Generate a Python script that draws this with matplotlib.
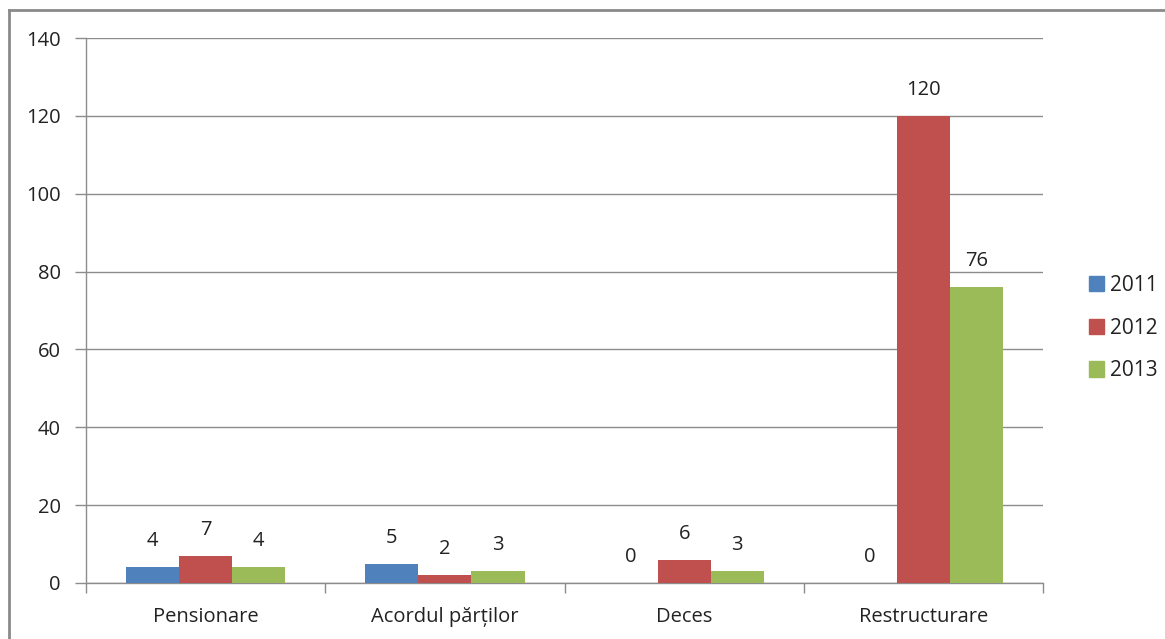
import numpy as np
import matplotlib.pyplot as plt
from matplotlib.lines import Line2D
from matplotlib.patches import Patch

categories = ['Pensionare', 'Acordul părților', 'Deces', 'Restructurare']
years = ['2011', '2012', '2013']
v2011 = [4, 5, 0, 0]
v2012 = [7, 2, 6, 120]
v2013 = [4, 3, 3, 76]
colors = ['#4F81BD', '#C0504D', '#9BBB59']

plt.rcParams['font.family'] = ['Open Sans', 'DejaVu Sans']

fig = plt.figure(figsize=(11.65, 6.39), dpi=100)
ax = fig.add_axes([86/1165, 1-583/639, (1043-86)/1165, (583-38)/639])

x = np.arange(len(categories))
w = 1/4.5
series = [v2011, v2012, v2013]
for k, vals in enumerate(series):
    pos = x + (k-1)*w
    ax.bar(pos, vals, width=w, color=colors[k], zorder=3)
    for p, v in zip(pos, vals):
        ax.annotate(str(v), (p, v), xytext=(0, 26), textcoords='offset pixels',
                    ha='center', va='center', fontsize=14.5, color='#222222')

ax.set_xlim(-0.5, 3.5)
ax.set_ylim(0, 140)
ax.set_yticks(range(0, 141, 20))
ax.yaxis.grid(True, color='#8c8c8c', linewidth=1, zorder=0)
ax.set_xticks(x)
ax.set_xticklabels(categories)
ax.set_xticks(np.arange(-0.5, 4, 1), minor=True)
ax.tick_params(axis='x', which='major', length=0, pad=17, labelsize=14.5, labelcolor='#222222')
ax.tick_params(axis='x', which='minor', length=7, color='#8c8c8c', width=1)
ax.tick_params(axis='y', length=8, color='#8c8c8c', width=1, pad=10, labelsize=14.5, labelcolor='#222222')
for s in ['top', 'right']:
    ax.spines[s].set_visible(False)
for s in ['left', 'bottom']:
    ax.spines[s].set_color('#8c8c8c')
    ax.spines[s].set_linewidth(1)

handles = [Patch(color=c) for c in colors]
fig.legend(handles, years, loc='center left', bbox_to_anchor=(1070/1165, 1-328/639),
           frameon=False, fontsize=15, labelspacing=1.05, handlelength=0.75,
           handleheight=0.75, handletextpad=0.25, labelcolor='#222222')

# outer frame
fig.add_artist(Line2D([9/1165, 9/1165], [0, 1-10/639], transform=fig.transFigure,
                      color='#8a8a8a', linewidth=2))
fig.add_artist(Line2D([9/1165, 1], [1-10/639, 1-10/639], transform=fig.transFigure,
                      color='#8a8a8a', linewidth=2))

fig.savefig('out.png', dpi=100)
